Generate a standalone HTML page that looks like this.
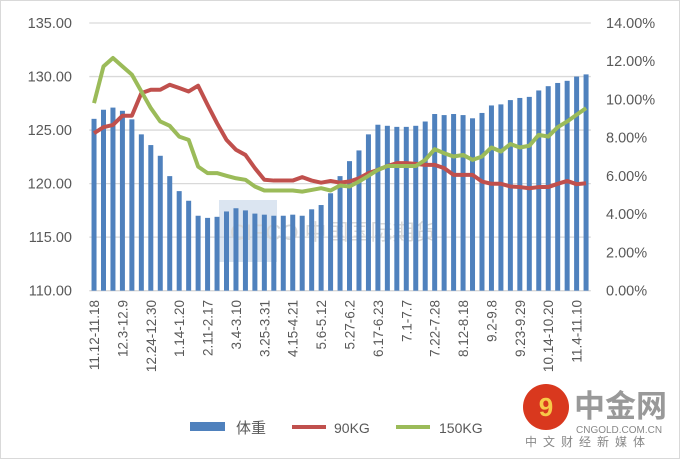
<!DOCTYPE html>
<html><head><meta charset="utf-8"><style>
body{margin:0;background:#fff;}
svg{display:block;font-family:"Liberation Sans","Noto Sans CJK SC",sans-serif;}
</style></head><body>
<svg id="chart" width="680" height="459" viewBox="0 0 680 459">
<rect x="0.5" y="0.5" width="679" height="458" fill="#fff" stroke="#d9d9d9"/>
<g id="grid"></g>
<rect x="219" y="200" width="58" height="62" fill="#b8cce4" opacity="0.5"/>
<text x="230" y="240" font-size="22" fill="#d8d8d8">CIFCO 中国国际期货</text>
<g id="bars"></g>
<g id="lines"></g>
<g id="yl"></g>
<g id="yr"></g>
<g id="xl"></g>
<g>
<g><rect x="190" y="422" width="35" height="9" fill="#4f81bd"/><text x="236" y="433" font-size="15" fill="#595959">体重</text></g>
<g><line x1="292" y1="427" x2="326" y2="427" stroke="#c0504d" stroke-width="4"/><text x="334" y="433" font-size="14" fill="#595959">90KG</text></g>
<g><line x1="396" y1="427" x2="430" y2="427" stroke="#9bbb59" stroke-width="4"/><text x="439" y="433" font-size="14" fill="#595959">150KG</text></g>
</g>
<g>
<circle cx="546" cy="407" r="23" fill="#d9381e"/>
<text x="546" y="416" font-size="26" fill="#f7c948" text-anchor="middle" font-weight="bold">9</text>
<text x="574" y="417" font-size="31" fill="#999" font-weight="bold">中金网</text>
<text x="576" y="433" font-size="10" fill="#888">CNGOLD.COM.CN</text>
<text x="525" y="446" font-size="12" fill="#888" letter-spacing="6">中文财经新媒体</text>
</g>
</svg>
<script>
const categories=["11.12-11.18","11.19-11.25","11.26-12.2","12.3-12.9","12.10-12.16","12.17-12.23","12.24-12.30","12.31-1.6","1.7-1.13","1.14-1.20","1.21-1.27","1.28-2.3","2.11-2.17","2.18-2.24","2.25-3.3","3.4-3.10","3.11-3.17","3.18-3.24","3.25-3.31","4.1-4.7","4.8-4.14","4.15-4.21","4.22-4.28","4.29-5.5","5.6-5.12","5.13-5.19","5.20-5.26","5.27-6.2","6.3-6.9","6.10-6.16","6.17-6.23","6.24-6.30","6.24-6.30b","7.1-7.7","7.8-7.14","7.15-7.21","7.22-7.28","7.29-8.4","8.5-8.11","8.12-8.18","8.19-8.25","8.26-9.1","9.2-9.8","9.9-9.15","9.16-9.22","9.23-9.29","9.30-10.6","10.7-10.13","10.14-10.20","10.21-10.27","10.28-11.3","11.4-11.10","11.11-11.17"];
const weight=[126.05,126.9,127.1,126.8,126.0,124.6,123.6,122.6,120.7,119.3,118.4,117.0,116.8,116.9,117.4,117.7,117.5,117.2,117.1,117.0,117.0,117.1,117.0,117.6,118.0,119.1,120.7,122.1,123.1,124.6,125.5,125.4,125.3,125.3,125.4,125.8,126.5,126.4,126.5,126.4,126.1,126.6,127.3,127.4,127.8,128.0,128.1,128.7,129.1,129.4,129.6,130.0,130.2];
const kg90=[8.24,8.55,8.67,9.15,9.15,10.33,10.51,10.51,10.77,10.6,10.42,10.72,9.72,8.76,7.89,7.37,7.1,6.41,5.8,5.76,5.76,5.76,5.94,5.76,5.65,5.74,5.65,5.71,5.88,6.15,6.32,6.52,6.67,6.67,6.63,6.58,6.58,6.41,6.06,6.06,6.06,5.71,5.59,5.59,5.45,5.42,5.36,5.42,5.42,5.59,5.74,5.57,5.62];
const kg150=[9.81,11.73,12.17,11.73,11.3,10.42,9.55,8.85,8.62,8.06,7.89,6.49,6.15,6.15,6.01,5.88,5.8,5.45,5.24,5.24,5.24,5.24,5.18,5.27,5.36,5.24,5.5,5.45,5.71,6.01,6.32,6.52,6.52,6.52,6.52,6.84,7.4,7.19,7.02,7.1,6.84,7.02,7.49,7.28,7.67,7.49,7.58,8.15,8.06,8.55,8.85,9.2,9.55];
const leftTicks=[110,115,120,125,130,135];
const rightTicks=[0,2,4,6,8,10,12,14];
const NS="http://www.w3.org/2000/svg";
const X0=89.3,X1=590.8,Y0=290.7,Y1=23;
const step=(X1-X0)/categories.length;
const xc=i=>X0+step*(i+0.5);
const yL=v=>Y0-(v-110)/25*(Y0-Y1);
const yR=v=>Y0-v/14*(Y0-Y1);
function mk(tag,attrs,parent){const e=document.createElementNS(NS,tag);for(const k in attrs)e.setAttribute(k,attrs[k]);parent.appendChild(e);return e;}
const grid=document.getElementById('grid'),bars=document.getElementById('bars'),lines=document.getElementById('lines');
const yl=document.getElementById('yl'),yr=document.getElementById('yr'),xl=document.getElementById('xl');
leftTicks.forEach(t=>{
  const g=mk('line',{x1:X0,x2:X1,y1:yL(t),y2:yL(t),stroke:'#d9d9d9','stroke-width':1.3},grid);
  
  
  const tx=mk('text',{x:72,y:yL(t)+5,'text-anchor':'end','font-size':14.5,fill:'#595959'},yl);
  tx.textContent=t.toFixed(2);
  
  
});
rightTicks.forEach(t=>{
  const tx=mk('text',{x:606,y:yR(t)+5,'font-size':14.5,fill:'#595959'},yr);
  tx.textContent=t.toFixed(2)+'%';
  
  
});
weight.forEach((v,i)=>{
  const r=mk('rect',{x:xc(i)-2.5,y:yL(v),width:5,height:Y0-yL(v),fill:'#4f81bd'},bars);
  
  
});
function line(arr,color,name){
  const p=mk('polyline',{points:arr.map((v,i)=>xc(i)+','+yR(v)).join(' '),fill:'none',stroke:color,'stroke-width':4,'stroke-linejoin':'round'},lines);
  
  
}
line(kg90,'#c0504d','line-90kg');
line(kg150,'#9bbb59','line-150kg');
categories.forEach((c,i)=>{
  if(i%3!==0)return;
  const x=xc(i)+5,y=300;
  const t=mk('text',{x:x,y:y,transform:`rotate(-90 ${x} ${y})`,'text-anchor':'end','font-size':13.5,fill:'#595959'},xl);
  t.textContent=c;
  
  
});
</script>
</body></html>
